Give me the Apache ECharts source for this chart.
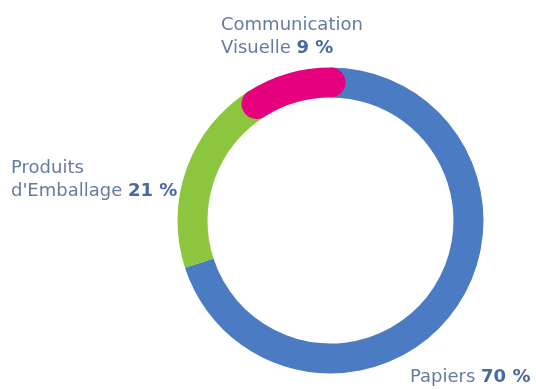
<!DOCTYPE html>
<html><head><meta charset="utf-8">
<script src="https://cdn.jsdelivr.net/npm/echarts@6/dist/echarts.min.js"></script>
<style>html,body{margin:0;padding:0;background:#fff}#c{width:536px;height:389px}</style>
</head><body><div id="c"></div>
<script>
const names = ['Papiers', "d'Emballage", 'Visuelle'];
const namePrefix = ['', 'Produits', 'Communication'];
const values = [70, 21, 9];
const colors = ['#4b7bc2', '#8cc63f', '#e5007d'];

const chart = echarts.init(document.getElementById('c'));
const series = values.map((v, i) => ({
  type: 'bar', coordinateSystem: 'polar', stack: 'ring',
  data: [v], barWidth: 30, roundCap: i === 2,
  itemStyle: { color: colors[i] }, silent: true, z: 2 + i
}));
const txt = { fontFamily: 'DejaVu Sans', fontSize: 18 };
const rich = {
  n: { ...txt, fill: '#667ba3', fontWeight: 'normal' },
  b: { ...txt, fill: '#4868a6', fontWeight: 'bold' }
};
function label(i, x, y) {
  const lines = [];
  if (namePrefix[i]) lines.push('{n|' + namePrefix[i] + '}');
  lines.push('{n|' + names[i] + ' }{b|' + values[i] + ' %}');
  return { type: 'text', left: x, top: y, style: { text: lines.join('\n'), rich, lineHeight: 23 } };
}
chart.setOption({
  animation: false,
  backgroundColor: '#fff',
  polar: { center: [330.5, 220.5], radius: [123, 153] },
  angleAxis: { type: 'value', min: 0, max: 100, startAngle: 90, clockwise: true, show: false },
  radiusAxis: { type: 'category', data: ['a'], show: false },
  series,
  graphic: [
    label(2, 221, 14),
    label(1, 11, 157),
    label(0, 410, 366)
  ]
});
</script></body></html>
